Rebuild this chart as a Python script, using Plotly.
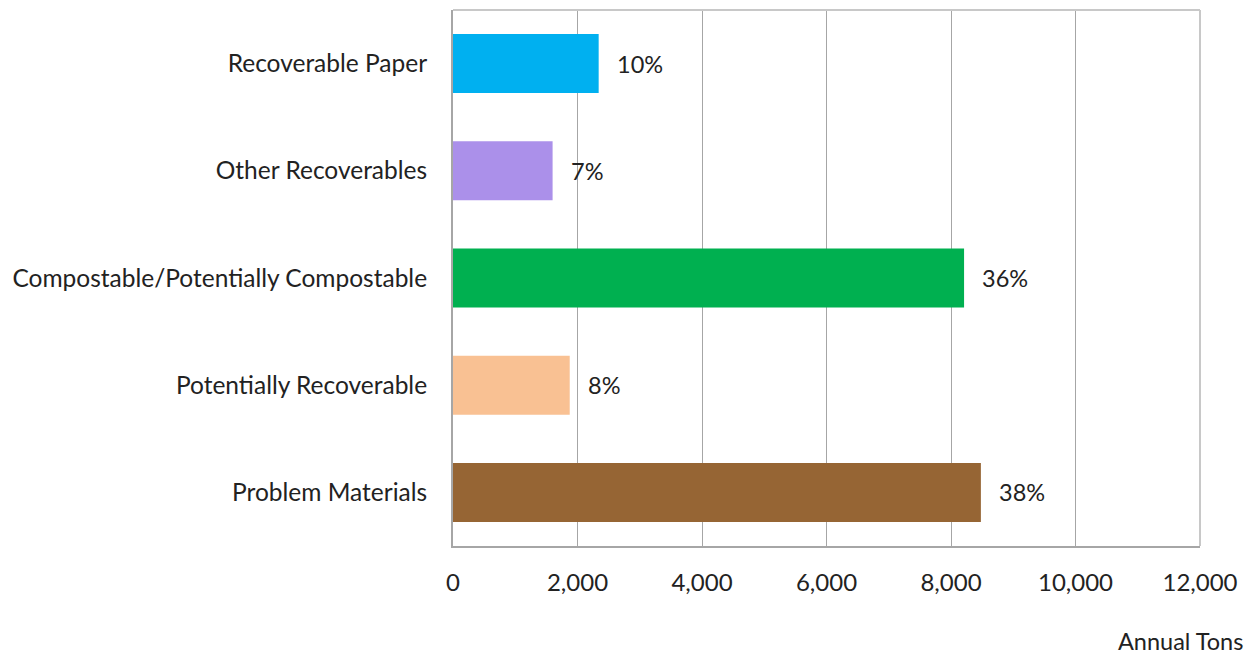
import plotly.graph_objects as go

categories = ["Recoverable Paper", "Other Recoverables", "Compostable/Potentially Compostable",
              "Potentially Recoverable", "Problem Materials"]
tons = [2340, 1600, 8210, 1875, 8480]
pct_labels = ["10%", "7%", "36%", "8%", "38%"]
colors = ["#00B0F0", "#AB90EA", "#00B050", "#F9C193", "#966534"]
x_ticks = [0, 2000, 4000, 6000, 8000, 10000, 12000]
x_tick_text = ["0", "2,000", "4,000", "6,000", "8,000", "10,000", "12,000"]

FONT = "Lato, 'Open Sans', sans-serif"
TXT = "#222222"

fig = go.Figure(go.Bar(
    x=tons, y=categories, orientation="h",
    marker=dict(color=colors, line=dict(width=0)),
    hoverinfo="skip",
))

for c, v, t in zip(categories, tons, pct_labels):
    fig.add_annotation(x=v, y=c, text=t, showarrow=False, xanchor="left",
                       xshift=16, font=dict(size=23.5, color=TXT, family=FONT))

fig.add_annotation(x=1, y=0, xref="paper", yref="paper", xanchor="right", yanchor="middle",
                   text="Annual Tons", showarrow=False, xshift=45, yshift=-95,
                   font=dict(size=23.5, color=TXT, family=FONT))

# top and right frame lines
fig.add_shape(type="line", xref="paper", yref="paper", x0=0, x1=1, y0=1, y1=1,
              line=dict(color="#C8C8C8", width=2))
fig.add_shape(type="line", xref="paper", yref="paper", x0=1, x1=1, y0=0, y1=1,
              line=dict(color="#C8C8C8", width=2))

fig.update_layout(
    width=1255, height=657,
    margin=dict(l=453, r=55, t=10, b=111),
    plot_bgcolor="white", paper_bgcolor="white",
    bargap=0.45,
    showlegend=False,
    font=dict(family=FONT, size=24, color=TXT),
    xaxis=dict(range=[0, 12000], tickvals=x_ticks, ticktext=x_tick_text,
               showgrid=True, gridcolor="#A6A6A6", gridwidth=1,
               showline=True, linecolor="#A6A6A6", linewidth=2,
               zeroline=False, ticks="", ticklabelstandoff=14,
               tickfont=dict(size=24, family=FONT, color=TXT)),
    yaxis=dict(autorange="reversed", showline=True, linecolor="#A6A6A6", linewidth=2,
               showgrid=False, ticks="", ticklabelstandoff=19,
               tickfont=dict(size=24.5, family=FONT, color=TXT)),
)

fig.write_html("out.html")
